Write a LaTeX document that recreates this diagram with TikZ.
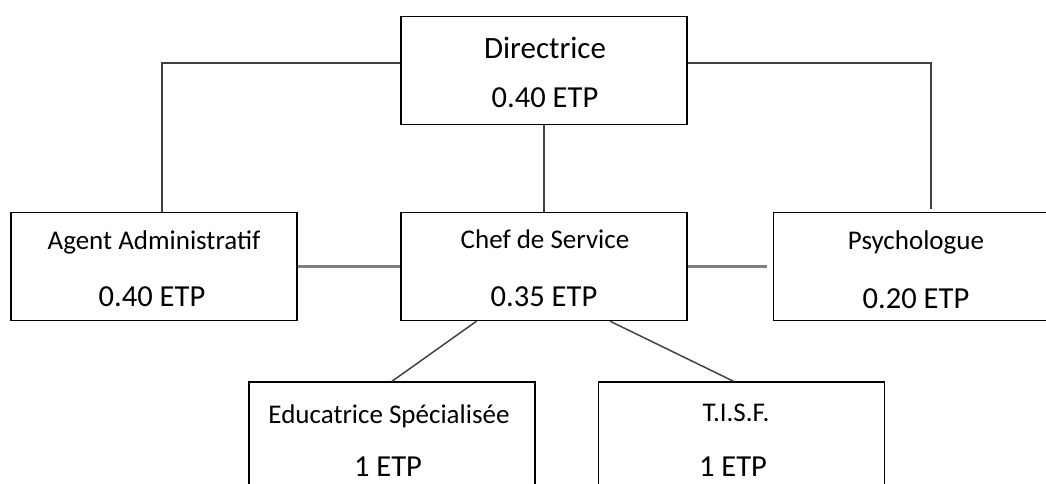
\documentclass[tikz,border=0pt]{standalone}
\usepackage{fontspec}
\setmainfont{Carlito}
\usetikzlibrary{calc}

\begin{document}
\begin{tikzpicture}[x=0.75pt,y=-0.75pt,
  poste/.style={draw=black,line width=1.1pt,minimum width=214.5pt,minimum height=81pt,inner sep=0pt},
  titre/.style={anchor=base,inner sep=0pt,font=\fontsize{20.25}{24}\selectfont},
  etp/.style={anchor=base,inner sep=0pt,font=\fontsize{22.9}{27}\selectfont},
  lien/.style={draw=black!75,line width=1.1pt},
  lienh/.style={draw=black!50,line width=2.4pt}]
\useasboundingbox (0,0) rectangle (1046,483);
\clip (0,0) rectangle (1046,483);
% boxes
\node[poste] (dir) at (544,70.5) {};
\node[poste] (agent) at (154,266.5) {};
\node[poste] (chef) at (544,266.5) {};
\node[poste] (psy) at (916.5,266.5) {};
\node[poste] (educ) at (392,436) {};
\node[poste] (tisf) at (741.5,436) {};
% texts
\node[etp,font=\fontsize{23.25}{28}\selectfont] (dirT) at (545,58) {Directrice};
\node[etp] (dirE) at (545,107) {0.40 ETP};
\node[titre] (agentT) at (154,249) {Agent Administratif};
\node[etp] (agentE) at (152,306) {0.40 ETP};
\node[titre] (chefT) at (545,248) {Chef de Service};
\node[etp] (chefE) at (544,306) {0.35 ETP};
\node[titre] (psyT) at (916,249) {Psychologue};
\node[etp] (psyE) at (916,308) {0.20 ETP};
\node[titre] (educT) at (389,423) {Educatrice Spécialisée};
\node[etp] (educE) at (388,476) {1 ETP};
\node[titre] (tisfT) at (736,421) {T.I.S.F.};
\node[etp] (tisfE) at (733,476) {1 ETP};
% links
\draw[lien] ($(dir.north west)!0.43!(dir.south west)$) -| ([xshift=6pt]agent.north);
\draw[lien] ($(dir.north east)!0.43!(dir.south east)$) -| ([xshift=11pt,yshift=2pt]psy.north);
\draw[lien] (dir) -- (chef);
\draw[lienh] (agent) -- (chef);
\draw[lienh] (chef.east) -- ([xshift=-4.5pt]psy.west);
\draw[lien] ($(chef.south west)!0.265!(chef.south east)$) -- (educ.north);
\draw[lien] ($(chef.south west)!0.73!(chef.south east)$) -- ([xshift=-6pt]tisf.north);
\end{tikzpicture}
\end{document}
